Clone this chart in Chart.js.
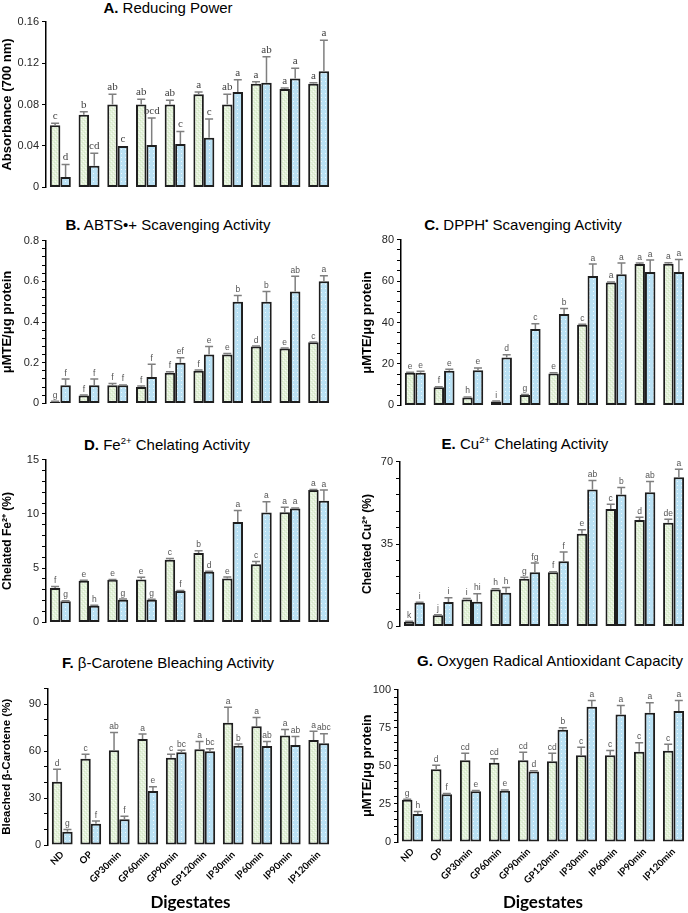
<!DOCTYPE html>
<html>
<head>
<meta charset="utf-8">
<script src="https://cdn.jsdelivr.net/npm/chart.js@4.4.1/dist/chart.umd.min.js"></script>
<style>
  body { margin: 0; background: #fff; }
  #wrap { position: relative; width: 688px; height: 913px; background: #fff; overflow: hidden; }
  canvas { position: absolute; }
  .ttl { position: absolute; width: 400px; text-align: center; font: 15px "Liberation Sans", Arial, sans-serif; line-height: 18px; color: #000; white-space: nowrap; }
  .ttl sup { font-size: 9.5px; line-height: 0; }
</style>
</head>
<body>
<div id="wrap">
  <div class="ttl" style="left:-32px;top:-1px"><b>A.</b> Reducing Power</div>
  <div class="ttl" style="left:-32px;top:216px"><b>B.</b> ABTS•+ Scavenging Activity</div>
  <div class="ttl" style="left:323px;top:216px"><b>C.</b> DPPH<sup>•</sup> Scavenging Activity</div>
  <div class="ttl" style="left:-33px;top:436px"><b>D.</b> Fe<sup>2+</sup> Chelating Activity</div>
  <div class="ttl" style="left:325px;top:435px"><b>E.</b> Cu<sup>2+</sup> Chelating Activity</div>
  <div class="ttl" style="left:-32px;top:654px"><b>F.</b> β-Carotene Bleaching Activity</div>
  <div class="ttl" style="left:350px;top:652px"><b>G.</b> Oxygen Radical Antioxidant Capacity</div>

  <canvas id="cA" style="left:0;top:12px" width="340" height="185"></canvas>
  <canvas id="cB" style="left:0;top:231px" width="340" height="182"></canvas>
  <canvas id="cC" style="left:360px;top:230px" width="328" height="185"></canvas>
  <canvas id="cD" style="left:0;top:450px" width="340" height="182"></canvas>
  <canvas id="cE" style="left:360px;top:452px" width="328" height="184"></canvas>
  <canvas id="cF" style="left:0;top:679px" width="340" height="234"></canvas>
  <canvas id="cG" style="left:360px;top:680px" width="328" height="233"></canvas>
</div>

<script>
const digestates = ["ND", "OP", "GP30min", "GP60min", "GP90min", "GP120min", "IP30min", "IP60min", "IP90min", "IP120min"];

// A. reducing power (absorbance 700 nm)
const rpGreen = [0.060, 0.070, 0.080, 0.080, 0.080, 0.090, 0.080, 0.100, 0.095, 0.100];
const rpGreenErr = [0.002, 0.003, 0.010, 0.005, 0.004, 0.002, 0.010, 0.002, 0.001, 0.001];
const rpBlue = [0.010, 0.021, 0.040, 0.041, 0.042, 0.048, 0.092, 0.101, 0.105, 0.112];
const rpBlueErr = [0.012, 0.012, 0.000, 0.026, 0.012, 0.018, 0.012, 0.025, 0.010, 0.030];
const rpGreenSig = ["c", "b", "ab", "ab", "ab", "a", "ab", "a", "a", "a"];
const rpBlueSig = ["d", "cd", "c", "bcd", "c", "c", "a", "ab", "a", "a"];

// B. ABTS
const abtsGreen = [0.008, 0.039, 0.089, 0.080, 0.151, 0.161, 0.240, 0.280, 0.270, 0.300];
const abtsGreenErr = [0.002, 0.002, 0.009, 0.005, 0.004, 0.003, 0.005, 0.002, 0.002, 0.002];
const abtsBlue = [0.089, 0.089, 0.089, 0.130, 0.200, 0.240, 0.500, 0.500, 0.550, 0.600];
const abtsBlueErr = [0.031, 0.031, 0.002, 0.062, 0.024, 0.040, 0.030, 0.050, 0.075, 0.027];
const abtsGreenSig = ["g", "f", "f", "f", "f", "f", "e", "d", "e", "c"];
const abtsBlueSig = ["f", "f", "f", "f", "ef", "e", "b", "b", "ab", "a"];

// C. DPPH
const dpphGreen = [15.7, 8.8, 3.8, 1.9, 5.0, 15.4, 38.9, 59.3, 68.2, 68.3];
const dpphGreenErr = [0.3, 0.2, 0.3, 0.2, 0.3, 0.4, 0.3, 0.3, 0.5, 0.5];
const dpphBlue = [15.7, 16.7, 17.0, 23.1, 36.9, 44.1, 62.4, 63.3, 64.4, 64.4];
const dpphBlueErr = [0.8, 0.8, 1.1, 1.3, 2.5, 2.6, 5.8, 5.4, 5.8, 6.0];
const dpphGreenSig = ["e", "f", "h", "i", "g", "e", "c", "a", "a", "a"];
const dpphBlueSig = ["e", "e", "e", "d", "c", "b", "a", "a", "a", "a"];

// D. Fe2+ chelating
const feGreen = [3.16, 3.83, 3.92, 3.95, 5.78, 6.39, 4.04, 5.35, 10.15, 12.2];
const feGreenErr = [0.15, 0.05, 0.03, 0.2, 0.1, 0.22, 0.15, 0.27, 0.45, 0.05];
const feBlue = [1.96, 1.54, 2.08, 2.08, 2.89, 4.67, 9.25, 10.12, 10.5, 11.2];
const feBlueErr = [0.03, 0.03, 0.08, 0.05, 0.05, 0.05, 1.05, 1.0, 0.05, 1.0];
const feGreenSig = ["f", "e", "e", "e", "c", "b", "e", "c", "a", "a"];
const feBlueSig = ["g", "h", "g", "g", "f", "d", "a", "a", "a", "a"];

// E. Cu2+ chelating
const cuGreen = [2.0, 4.7, 11.4, 15.7, 20.2, 23.0, 39.4, 49.9, 45.2, 44.0];
const cuGreenErr = [0.2, 0.2, 0.4, 0.3, 0.7, 0.2, 1.6, 2.0, 1.2, 1.5];
const cuBlue = [10.0, 10.4, 10.5, 14.3, 23.0, 27.7, 58.2, 56.0, 57.0, 63.3];
const cuBlueErr = [0.3, 1.8, 3.4, 2.2, 3.9, 3.9, 3.8, 3.0, 4.6, 3.4];
const cuGreenSig = ["k", "j", "i", "h", "g", "f", "e", "c", "d", "de"];
const cuBlueSig = ["i", "i", "hi", "h", "fg", "f", "ab", "b", "ab", "a"];

// F. beta-carotene bleaching
const betaGreen = [40.5, 55.1, 60.6, 67.7, 55.8, 61.2, 78.2, 75.9, 70.0, 67.1];
const betaGreenErr = [7.9, 2.9, 11.3, 3.2, 2.3, 5.0, 9.8, 5.7, 3.8, 5.6];
const betaBlue = [8.4, 13.6, 16.4, 34.6, 59.3, 60.0, 63.5, 63.3, 63.9, 65.0];
const betaBlueErr = [1.5, 1.7, 2.0, 2.7, 1.3, 1.6, 1.1, 2.9, 5.5, 6.1];
const betaGreenSig = ["d", "c", "ab", "a", "c", "a", "a", "a", "a", "a"];
const betaBlueSig = ["g", "f", "f", "e", "bc", "bc", "b", "ab", "ab", "abc"];

// G. ORAC
const oracGreen = [27.8, 47.8, 53.7, 52.0, 53.7, 53.0, 57.0, 57.0, 59.3, 59.8];
const oracGreenErr = [0.3, 2.6, 4.6, 2.6, 5.2, 5.3, 5.2, 3.0, 5.9, 4.3];
const oracBlue = [18.3, 31.3, 33.3, 33.7, 46.3, 73.7, 88.7, 83.7, 84.8, 85.9];
const oracBlueErr = [1.7, 0.5, 0.5, 0.5, 0.4, 1.3, 4.2, 5.9, 6.5, 7.0];
const oracGreenSig = ["g", "d", "cd", "cd", "cd", "cd", "c", "c", "c", "c"];
const oracBlueSig = ["h", "f", "e", "e", "d", "b", "a", "a", "a", "a"];

function makePattern(kind) {
    const c = document.createElement("canvas");
    c.width = 4; c.height = 4;
    const g = c.getContext("2d");
    if (kind === "green") {
        g.fillStyle = "#e3f1d9"; g.fillRect(0, 0, 4, 4);
        g.fillStyle = "#d2e7c3"; g.fillRect(0, 0, 1, 1); g.fillRect(2, 2, 1, 1);
        g.fillStyle = "#f6fbf2"; g.fillRect(1, 3, 1, 1); g.fillRect(3, 1, 1, 1);
    } else {
        g.fillStyle = "#bae1f4"; g.fillRect(0, 0, 4, 4);
        g.fillStyle = "#eef8fd"; g.fillRect(1, 1, 1, 1);
    }
    return g.createPattern(c, "repeat");
}
const greenFill = makePattern("green");
const blueFill = makePattern("blue");

// error bars (upper only) + significance letters
const errorBars = {
    id: "errorBars",
    afterDatasetsDraw(chart) {
        const ctx = chart.ctx;
        const y = chart.scales.y;
        const o = chart.options.plugins.errorBars;
        ctx.save();
        chart.data.datasets.forEach((ds, di) => {
            const meta = chart.getDatasetMeta(di);
            meta.data.forEach((bar, i) => {
                const yBar = y.getPixelForValue(ds.data[i]);
                const yTop = y.getPixelForValue(ds.data[i] + ds.errors[i]);
                ctx.strokeStyle = "#7f7f7f";
                ctx.lineWidth = 1.5;
                if (ds.errors[i] > 0) {
                    ctx.beginPath();
                    ctx.moveTo(bar.x, yBar);
                    ctx.lineTo(bar.x, yTop);
                    ctx.moveTo(bar.x - 4, yTop);
                    ctx.lineTo(bar.x + 4, yTop);
                    ctx.stroke();
                }
                ctx.fillStyle = o.color;
                ctx.font = o.font;
                ctx.textAlign = "center";
                ctx.textBaseline = "bottom";
                ctx.fillText(ds.sig[i], bar.x, Math.min(yTop, yBar) - 1.5);
            });
        });
        ctx.restore();
    }
};

function fmt(v) {
    return v === 0 ? "0" : String(+v.toFixed(2));
}

function buildPanel(id, p) {
    const canvas = document.getElementById(id);
    return new Chart(canvas, {
        type: "bar",
        data: {
            labels: digestates,
            datasets: [
                { data: p.green, errors: p.greenErr, sig: p.greenSig, backgroundColor: greenFill,
                  borderColor: "#1e1e1e", borderWidth: 2, borderSkipped: false },
                { data: p.blue, errors: p.blueErr, sig: p.blueSig, backgroundColor: blueFill,
                  borderColor: "#1e1e1e", borderWidth: 2, borderSkipped: false },
            ],
        },
        options: {
            responsive: false,
            animation: false,
            devicePixelRatio: 1,
            layout: { padding: { top: 8, bottom: p.showX ? 0 : 8, left: 0, right: p.padRight } },
            datasets: { bar: { categoryPercentage: 0.73, barPercentage: 1.0 } },
            plugins: {
                legend: { display: false },
                tooltip: { enabled: false },
                errorBars: p.letters,
            },
            scales: {
                x: {
                    display: true,
                    grid: { display: false, drawTicks: false },
                    border: { display: false },
                    ticks: {
                        display: p.showX,
                        autoSkip: false,
                        maxRotation: 45,
                        minRotation: 45,
                        padding: 4,
                        color: "#000",
                        font: { family: "Lato, 'Open Sans', sans-serif", size: 9.5, weight: "bold" },
                    },
                    title: {
                        display: p.showX,
                        text: "Digestates",
                        color: "#000",
                        padding: { top: 0, bottom: 0 },
                        font: { family: "Lato, 'Open Sans', sans-serif", size: 17, weight: "bold" },
                    },
                    afterFit(scale) { scale.height = p.showX ? p.xHeight : 0; },
                },
                y: {
                    min: 0,
                    max: p.max,
                    border: { display: true, color: "#000", width: 1.5 },
                    grid: { drawOnChartArea: false, drawTicks: true, tickLength: 4, tickColor: "#000", tickWidth: 1 },
                    ticks: {
                        stepSize: p.minor,
                        autoSkip: false,
                        padding: 3,
                        color: "#262626",
                        font: { family: "'Liberation Sans', Arial, sans-serif", size: 11 },
                        callback(v) {
                            const r = v / p.major;
                            return Math.abs(r - Math.round(r)) < 1e-6 ? fmt(v) : "";
                        },
                    },
                    title: {
                        display: true,
                        text: p.yTitle,
                        color: "#000",
                        padding: { top: 0, bottom: 0 },
                        font: { family: "'Liberation Sans', Arial, sans-serif", size: p.yTitleSize, weight: "bold" },
                    },
                    afterFit(scale) { scale.width = p.yWidth; },
                },
            },
        },
        plugins: [errorBars],
    });
}

const sansLetters = { font: "8.5px 'Liberation Sans', Arial, sans-serif", color: "#555" };

buildPanel("cA", {
    green: rpGreen, greenErr: rpGreenErr, greenSig: rpGreenSig,
    blue: rpBlue, blueErr: rpBlueErr, blueSig: rpBlueSig,
    max: 0.16, minor: 0.04, major: 0.04, yTitle: "Absorbance (700 nm)", yTitleSize: 13,
    yWidth: 46, padRight: 7, showX: false,
    letters: { font: "11px 'Liberation Serif', 'Times New Roman', serif", color: "#404040" },
});
buildPanel("cB", {
    green: abtsGreen, greenErr: abtsGreenErr, greenSig: abtsGreenSig,
    blue: abtsBlue, blueErr: abtsBlueErr, blueSig: abtsBlueSig,
    max: 0.8, minor: 0.04, major: 0.2, yTitle: "μMTE/μg protein", yTitleSize: 13,
    yWidth: 46, padRight: 7, showX: false, letters: sansLetters,
});
buildPanel("cC", {
    green: dpphGreen, greenErr: dpphGreenErr, greenSig: dpphGreenSig,
    blue: dpphBlue, blueErr: dpphBlueErr, blueSig: dpphBlueSig,
    max: 80, minor: 5, major: 20, yTitle: "μMTE/μg protein", yTitleSize: 13,
    yWidth: 41, padRight: 0, showX: false, letters: sansLetters,
});
buildPanel("cD", {
    green: feGreen, greenErr: feGreenErr, greenSig: feGreenSig,
    blue: feBlue, blueErr: feBlueErr, blueSig: feBlueSig,
    max: 15, minor: 1, major: 5, yTitle: "Chelated Fe²⁺ (%)", yTitleSize: 12,
    yWidth: 46, padRight: 7, showX: false, letters: sansLetters,
});
buildPanel("cE", {
    green: cuGreen, greenErr: cuGreenErr, greenSig: cuGreenSig,
    blue: cuBlue, blueErr: cuBlueErr, blueSig: cuBlueSig,
    max: 70, minor: 7, major: 35, yTitle: "Chelated Cu²⁺ (%)", yTitleSize: 12,
    yWidth: 40, padRight: 0, showX: false, letters: sansLetters,
});
buildPanel("cF", {
    green: betaGreen, greenErr: betaGreenErr, greenSig: betaGreenSig,
    blue: betaBlue, blueErr: betaBlueErr, blueSig: betaBlueSig,
    max: 100, minor: 10, major: 30, yTitle: "Bleached β-Carotene (%)", yTitleSize: 11.5,
    yWidth: 48, padRight: 7, showX: true, xHeight: 68, letters: sansLetters,
});
buildPanel("cG", {
    green: oracGreen, greenErr: oracGreenErr, greenSig: oracGreenSig,
    blue: oracBlue, blueErr: oracBlueErr, blueSig: oracBlueSig,
    max: 100, minor: 5, major: 25, yTitle: "μMTE/μg protein", yTitleSize: 13,
    yWidth: 38, padRight: 0, showX: true, xHeight: 71, letters: sansLetters,
});
</script>
</body>
</html>
